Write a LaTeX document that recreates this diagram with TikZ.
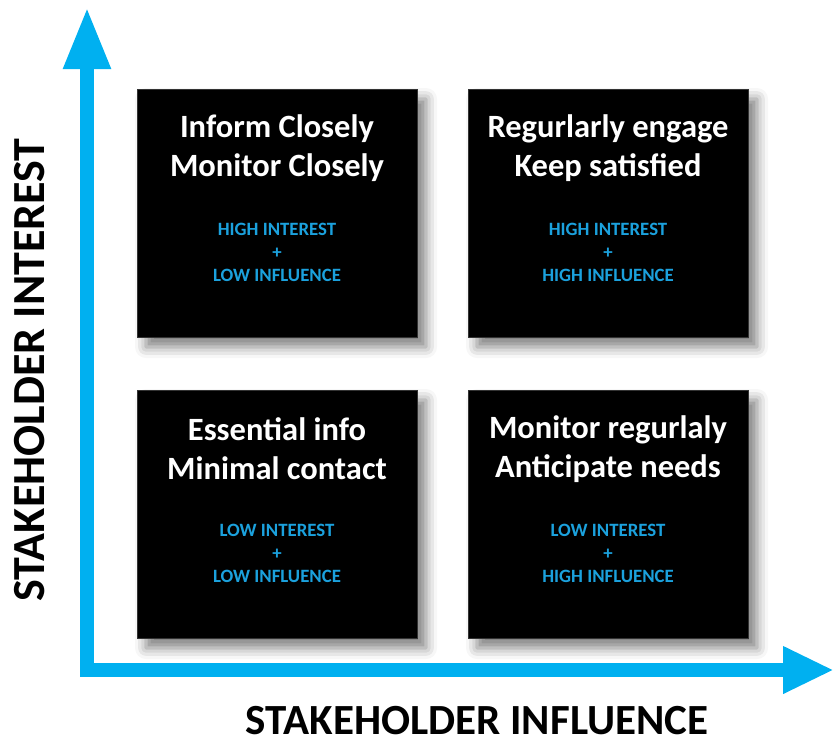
\documentclass[tikz,border=0pt]{standalone}
\usepackage{fontspec}
\setmainfont{Carlito}
\usepackage{xcolor}
\usepackage{tikz}
\usetikzlibrary{arrows.meta,positioning,calc,shadows.blur}
\definecolor{axisblue}{HTML}{00B0F0}
\definecolor{tagblue}{HTML}{1BA1DD}
\tikzset{
  quad/.style={fill=black,draw=black!80,minimum width=280pt,minimum height=248pt,inner sep=0pt,
    blur shadow={shadow xshift=9pt,shadow yshift=-10pt,shadow blur radius=11pt,shadow opacity=50}},
  head/.style={text=white,align=center,font=\bfseries\fontsize{32.5}{39}\selectfont,inner sep=0pt},
  tag/.style={text=tagblue,align=center,font=\bfseries\fontsize{18.8}{23}\selectfont,inner sep=0pt},
  axis/.style={draw=axisblue,line width=14pt,line join=miter},
  axlabel/.style={font=\bfseries\fontsize{43}{43}\selectfont,inner sep=0pt},
}

\begin{document}
\begin{tikzpicture}[x=1pt,y=-1pt]
\useasboundingbox (0,0) rectangle (834,745);
% axes
\coordinate (origin) at (87,670);
\coordinate (ytop) at (87,7);
\coordinate (xend) at (834,670);
\draw[axis,{Triangle[length=62pt,width=44pt]}-{Triangle[length=51pt,width=44pt]}] (ytop) -- (origin) -- (xend);
\node[axlabel,rotate=90,anchor=base,font=\bfseries\fontsize{46}{46}\selectfont] (ylabel) at (44,370) {STAKEHOLDER INTEREST};
\node[axlabel,anchor=base] (xlabel) at (477,734) {STAKEHOLDER INFLUENCE};
% quadrants
\foreach \n/\x/\y/\a/\b/\c/\d in {
    tl/277/213/Inform Closely/Monitor Closely/HIGH INTEREST/LOW INFLUENCE,
    tr/608/213/Regurlarly engage/Keep satisfied/HIGH INTEREST/HIGH INFLUENCE,
    bl/277/514/Essential info/Minimal contact/LOW INTEREST/LOW INFLUENCE,
    br/608/514/Monitor regurlaly/Anticipate needs/LOW INTEREST/HIGH INFLUENCE} {
  \node[quad] (\n) at (\x,\y) {};
  \node[head] (\n-head) at ($(\n.north)+(0,59)$) {\a\\\b};
  \node[tag] (\n-tag) at ($(\n.north)+(0,164)$) {\c\\+\\\d};}
\end{tikzpicture}
\end{document}
